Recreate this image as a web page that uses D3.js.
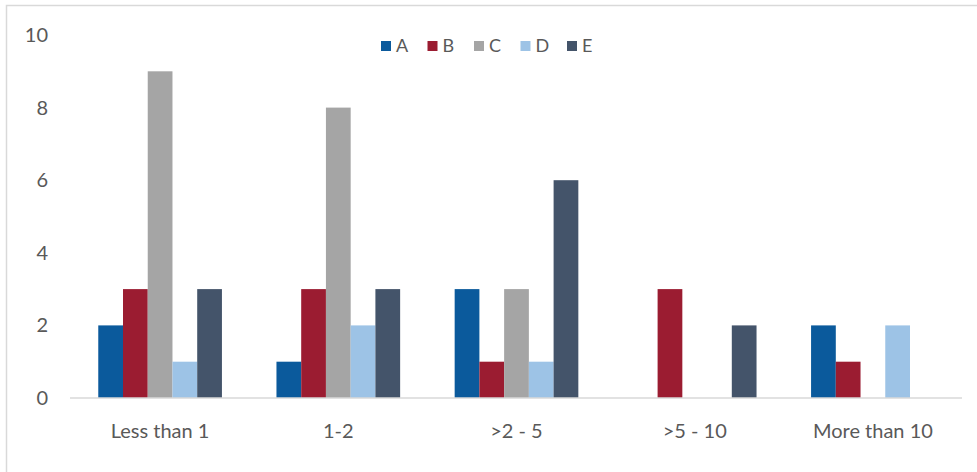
<!DOCTYPE html>
<html>
<head>
<meta charset="utf-8">
<script src="https://cdn.jsdelivr.net/npm/d3@7"></script>
<style>
  body { margin: 0; background: #fff; }
  svg { display: block; font-family: Lato, "Open Sans", sans-serif; }
</style>
</head>
<body>
<svg id="chart" width="977" height="472"></svg>
<script>
const categories = ["Less than 1", "1-2", ">2 - 5", ">5 - 10", "More than 10"];
const seriesNames = ["A", "B", "C", "D", "E"];
const valuesA = [2, 1, 3, 0, 2];
const valuesB = [3, 3, 1, 3, 1];
const valuesC = [9, 8, 3, 0, 0];
const valuesD = [1, 2, 1, 0, 2];
const valuesE = [3, 3, 6, 2, 0];
const yTicks = [0, 2, 4, 6, 8, 10];

const colors = ["#0b5a9c", "#9b1c31", "#a5a5a5", "#9dc3e6", "#44546a"];
const allValues = [valuesA, valuesB, valuesC, valuesD, valuesE];

const svg = d3.select("#chart");

// chart border (cut off at right/bottom like the original)
svg.append("rect")
    .attr("x", 6.5).attr("y", 5.5)
    .attr("width", 980).attr("height", 480)
    .attr("fill", "none")
    .attr("stroke", "#d9d9d9")
    .attr("stroke-width", 1.5);

const margin = { left: 71, right: 15, top: 35, bottom: 74 };
const width = 977, height = 472;

const x = d3.scaleBand()
    .domain(categories)
    .range([margin.left, width - margin.right])
    .paddingInner(0.306)
    .paddingOuter(0.153);

const xInner = d3.scaleBand()
    .domain(seriesNames)
    .range([0, x.bandwidth()]);

const y = d3.scaleLinear()
    .domain([0, 10])
    .range([height - margin.bottom, margin.top]);

// y tick labels
svg.append("g")
    .selectAll("text")
    .data(yTicks)
    .enter()
    .append("text")
    .attr("x", 48)
    .attr("y", d => y(d))
    .attr("dy", "0.35em")
    .attr("text-anchor", "end")
    .attr("fill", "#595959")
    .style("font-size", "20px")
    .text(d => d);

// bars
const groups = svg.append("g")
    .selectAll("g")
    .data(categories)
    .enter()
    .append("g")
    .attr("transform", d => `translate(${x(d)},0)`);

groups.selectAll("rect")
    .data((d, i) => seriesNames.map((s, j) => ({ key: s, value: allValues[j][i], color: colors[j] })))
    .enter()
    .filter(d => d.value > 0)
    .append("rect")
    .attr("x", d => xInner(d.key))
    .attr("y", d => y(d.value))
    .attr("width", xInner.bandwidth())
    .attr("height", d => y(0) - y(d.value))
    .attr("fill", d => d.color);

// baseline
svg.append("line")
    .attr("x1", 70)
    .attr("x2", width - margin.right)
    .attr("y1", y(0))
    .attr("y2", y(0))
    .attr("stroke", "#d9d9d9")
    .attr("stroke-width", 1.5);

// category labels
svg.append("g")
    .selectAll("text")
    .data(categories)
    .enter()
    .append("text")
    .attr("x", d => x(d) + x.bandwidth() / 2)
    .attr("y", 431)
    .attr("dy", "0.35em")
    .attr("text-anchor", "middle")
    .attr("fill", "#595959")
    .style("font-size", "20px")
    .text(d => d);

// legend
const legend = svg.append("g")
    .selectAll("g")
    .data(seriesNames)
    .enter()
    .append("g")
    .attr("transform", (d, i) => `translate(${381 + i * 46.5},41)`);

legend.append("rect")
    .attr("width", 10)
    .attr("height", 10)
    .attr("fill", (d, i) => colors[i]);

legend.append("text")
    .attr("x", 15)
    .attr("y", 5)
    .attr("dy", "0.35em")
    .attr("fill", "#595959")
    .style("font-size", "18px")
    .text(d => d);
</script>
</body>
</html>
